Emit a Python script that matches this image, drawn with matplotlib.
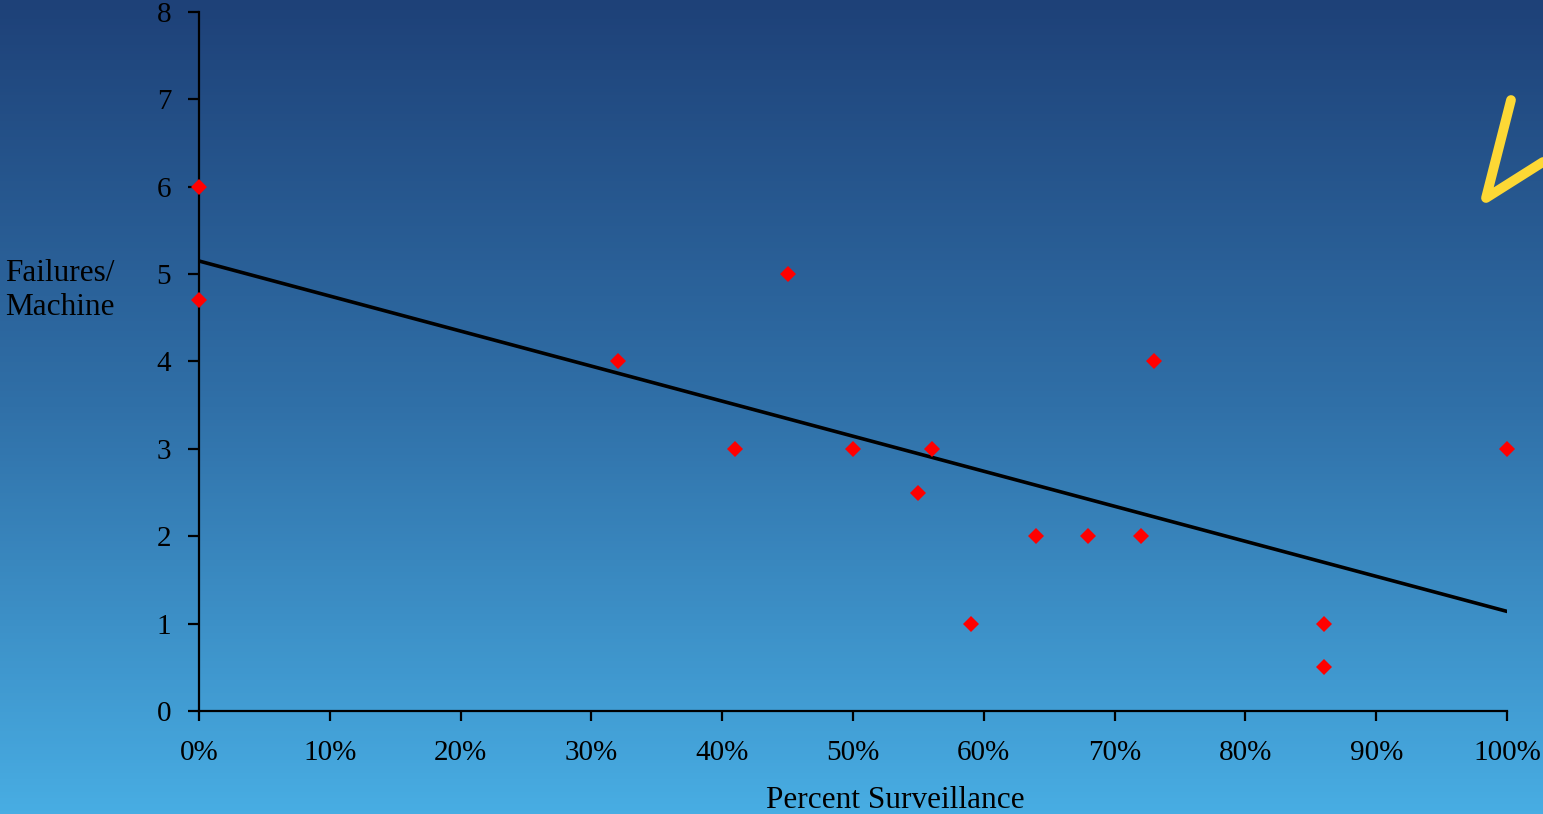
import numpy as np
import matplotlib
matplotlib.use('Agg')
import matplotlib.pyplot as plt
from matplotlib.colors import LinearSegmentedColormap

# data
surveillance = [0.00, 0.00, 0.32, 0.41, 0.45, 0.50, 0.55, 0.56,
                0.59, 0.64, 0.68, 0.72, 0.73, 0.86, 0.86, 1.00]
failures = [6.0, 4.7, 4.0, 3.0, 5.0, 3.0, 2.5, 3.0,
            1.0, 2.0, 2.0, 2.0, 4.0, 1.0, 0.5, 3.0]
trend_x = [0.0, 1.0]
trend_y = [5.15, 1.14]
x_ticks = [0.0, 0.1, 0.2, 0.3, 0.4, 0.5, 0.6, 0.7, 0.8, 0.9, 1.0]
x_labels = ['0%', '10%', '20%', '30%', '40%', '50%', '60%', '70%', '80%', '90%', '100%']
y_ticks = [0, 1, 2, 3, 4, 5, 6, 7, 8]

plt.rcParams['font.family'] = ['Liberation Serif', 'DejaVu Serif']

fig = plt.figure(figsize=(15.43, 8.14), dpi=100)

# gradient background
bg = fig.add_axes([0, 0, 1, 1], zorder=-10)
cmap = LinearSegmentedColormap.from_list('bg', ['#1e4178', '#3070a8', '#48ade3'])
grad = np.linspace(0, 1, 256).reshape(-1, 1)
bg.imshow(grad, aspect='auto', cmap=cmap, extent=[0, 1, 0, 1], origin='upper')
bg.axis('off')

ax = fig.add_axes([0.129, 0.1265, 0.8477, 0.8588])
ax.patch.set_alpha(0)
ax.plot(trend_x, trend_y, color='black', lw=2.6, solid_capstyle='round', zorder=2)
ax.plot(surveillance, failures, 'D', color='#ff0000', markersize=8,
        markeredgewidth=0, clip_on=False, zorder=3)

ax.set_xlim(0, 1)
ax.set_ylim(0, 8)
ax.set_xticks(x_ticks)
ax.set_xticklabels(x_labels)
ax.set_yticks(y_ticks)
for s in ['top', 'right']:
    ax.spines[s].set_visible(False)
for s in ['left', 'bottom']:
    ax.spines[s].set_linewidth(1.6)
    ax.spines[s].set_color('black')
ax.tick_params(axis='y', direction='out', length=8, width=1.6, labelsize=21, pad=12)
ax.tick_params(axis='x', direction='out', length=7, width=1.6, labelsize=21, pad=14)

fig.text(0.003, 0.643, 'Failures/\nMachine', fontsize=22.5, ha='left', va='center',
         linespacing=1.25)
fig.text(0.58, 0.017, 'Percent Surveillance', fontsize=22.5, ha='center', va='center')

# yellow hand-drawn tick mark
fig.add_artist(plt.Line2D([1511 / 1543, 1486 / 1543, 1543 / 1543],
                          [1 - 100 / 814, 1 - 198 / 814, 1 - 162 / 814],
                          color='#fdd835', lw=7, solid_capstyle='round',
                          solid_joinstyle='round'))

fig.savefig('out.png', dpi=100)
